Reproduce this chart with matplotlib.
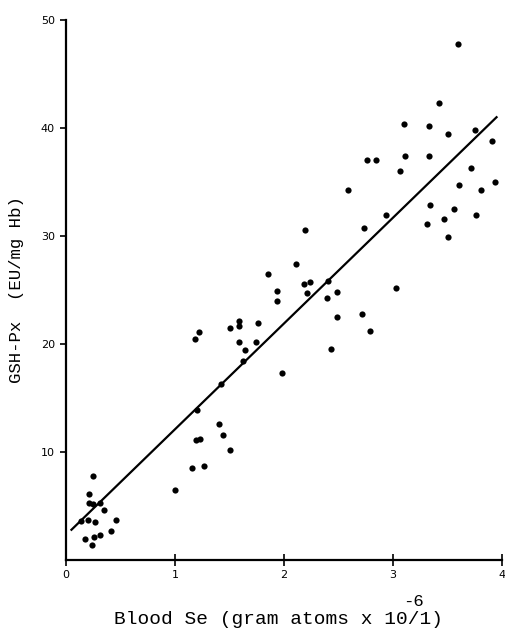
import matplotlib
matplotlib.use("Agg")
import matplotlib.pyplot as plt

# Data (Blood Se vs GSH-Px)
blood_se = [3.60, 3.42, 3.10, 3.33, 3.50, 3.75, 3.91, 2.76, 2.84, 3.11, 3.33, 3.06,
            3.72, 3.94, 3.61, 3.81, 2.59, 3.34, 3.56, 3.47, 3.76, 3.31, 3.50, 2.94,
            2.73, 2.19, 2.11, 1.85, 2.18, 2.24, 2.40, 1.94, 2.21, 2.49, 1.94, 2.39,
            3.03, 2.49, 2.72, 2.79, 2.43, 1.98, 1.50, 1.59, 1.59, 1.76, 1.18, 1.22,
            1.59, 1.74, 1.64, 1.62, 1.42, 1.20, 1.40, 1.44, 1.19, 1.23, 1.50, 1.16,
            1.27, 1.00, 0.25, 0.21, 0.21, 0.25, 0.31, 0.35, 0.14, 0.20, 0.27, 0.46,
            0.41, 0.17, 0.26, 0.31, 0.24]
gsh_px = [47.8, 42.3, 40.4, 40.2, 39.4, 39.8, 38.8, 37.0, 37.0, 37.4, 37.4, 36.0,
          36.3, 35.0, 34.7, 34.3, 34.3, 32.9, 32.5, 31.6, 31.9, 31.1, 29.9, 31.9,
          30.7, 30.6, 27.4, 26.5, 25.6, 25.7, 25.8, 24.9, 24.7, 24.8, 24.0, 24.3,
          25.2, 22.5, 22.8, 21.2, 19.5, 17.3, 21.5, 22.1, 21.7, 21.9, 20.5, 21.1,
          20.2, 20.2, 19.4, 18.4, 16.3, 13.9, 12.6, 11.6, 11.1, 11.2, 10.2, 8.5,
          8.7, 6.5, 7.8, 6.1, 5.3, 5.2, 5.3, 4.6, 3.6, 3.7, 3.5, 3.7,
          2.7, 1.9, 2.1, 2.3, 1.4]

line_x = [0.05, 3.95]
line_y = [2.8, 41.0]

x_ticks = [0, 1, 2, 3, 4]
y_ticks = [10, 20, 30, 40, 50]

fig = plt.figure(figsize=(5.05, 6.3), dpi=100)
ax = fig.add_axes([66 / 505, 70 / 630, 436 / 505, 540 / 630])

ax.scatter(blood_se, gsh_px, s=20, color="black", zorder=3, linewidths=0)
ax.plot(line_x, line_y, color="black", linewidth=1.6)

ax.set_xlim(0, 4)
ax.set_ylim(0, 50)
ax.set_xticks(x_ticks)
ax.set_xticklabels([str(v) for v in x_ticks], fontsize=8, family="DejaVu Sans")
ax.set_yticks(y_ticks)
ax.set_yticklabels([str(v) for v in y_ticks], fontsize=8, family="DejaVu Sans")

for s in ["top", "right"]:
    ax.spines[s].set_visible(False)
for s in ["left", "bottom"]:
    ax.spines[s].set_linewidth(1.6)

ax.tick_params(axis="x", direction="inout", length=8, width=1.2, pad=3)
ax.tick_params(axis="y", direction="out", length=4, width=1.2, pad=4)

ax.set_ylabel("GSH-Px  (EU/mg Hb)", fontsize=12.5, family="Liberation Mono", labelpad=12)
fig.text(278 / 505, 1 - 620 / 630, "Blood Se (gram atoms x 10/1)", fontsize=14,
         family="Liberation Mono", ha="center", va="center")
fig.text(413 / 505, 1 - 602 / 630, "-6", fontsize=12.5,
         family="Liberation Mono", ha="center", va="center")

fig.savefig("out.png", dpi=100)
